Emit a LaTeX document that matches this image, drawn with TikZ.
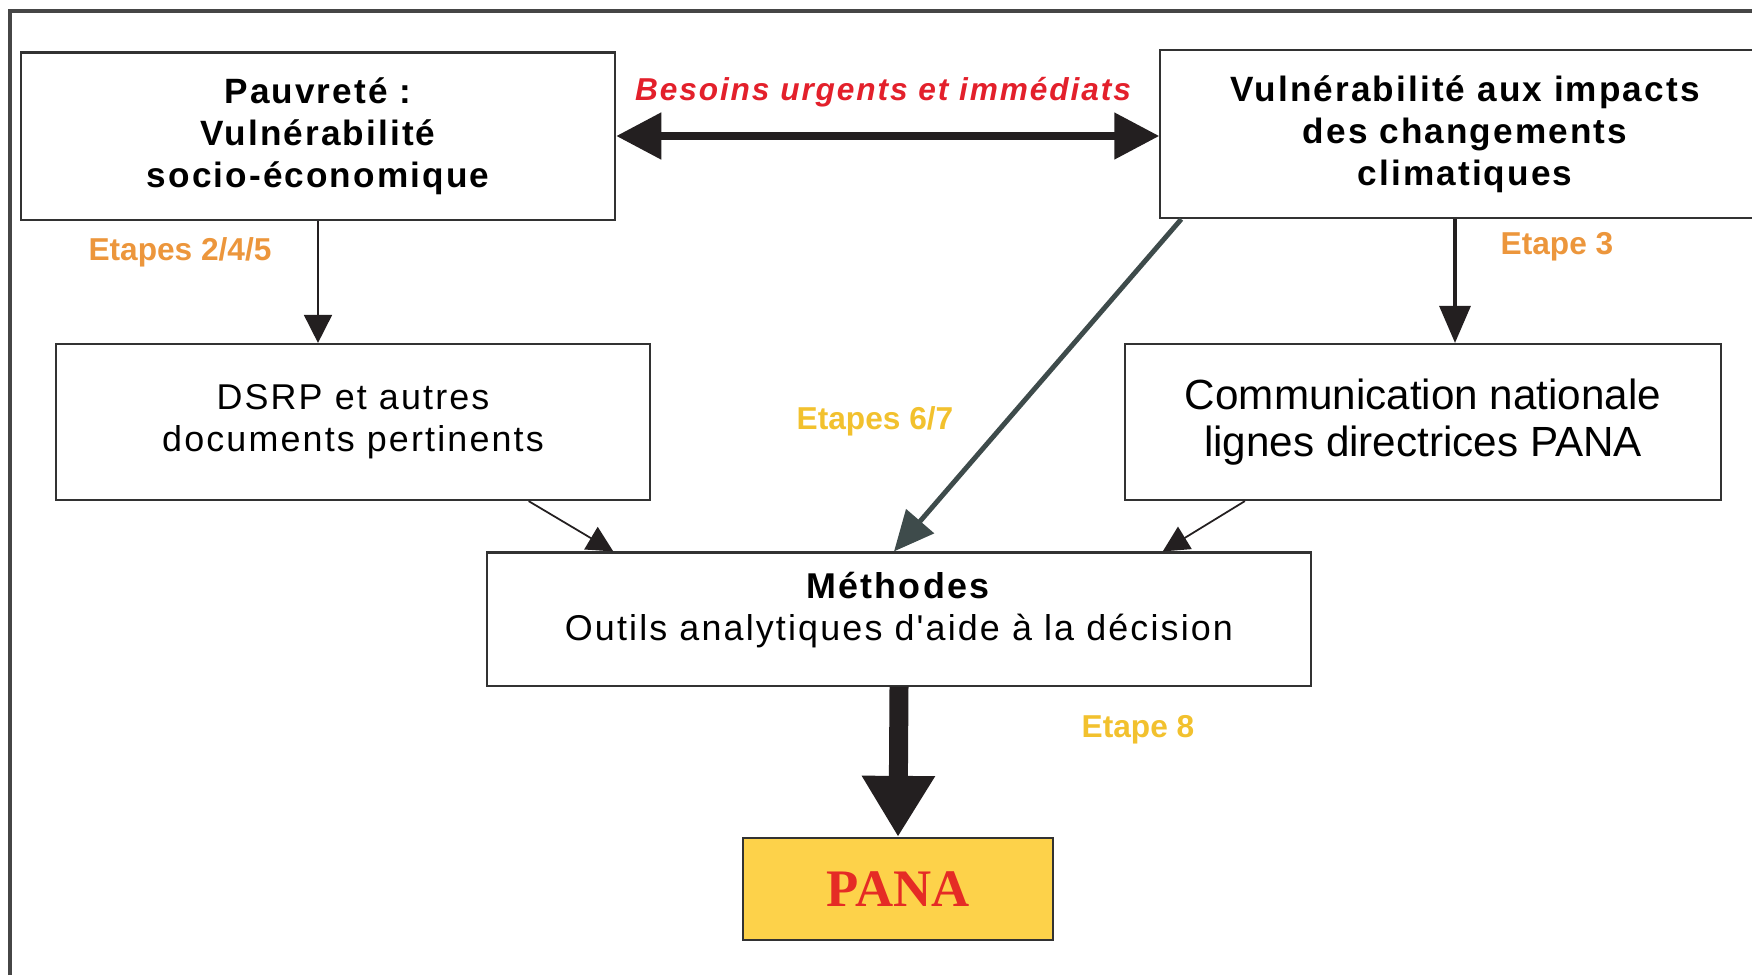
\documentclass[tikz,border=0pt]{standalone}
\usepackage{fontspec}
\setmainfont{Liberation Sans}
\newfontfamily\spacedfont[LetterSpace=6]{Liberation Sans}
\newfontfamily\panafont{Liberation Serif}
\usetikzlibrary{arrows.meta}
\definecolor{boxline}{RGB}{50,50,50}
\definecolor{framegray}{RGB}{70,70,70}
\definecolor{arrowblack}{RGB}{35,31,32}
\definecolor{diaggray}{RGB}{62,75,75}
\definecolor{labelred}{RGB}{227,32,43}
\definecolor{labelorange}{RGB}{236,150,60}
\definecolor{labelyellow}{RGB}{242,193,46}
\definecolor{panafill}{RGB}{253,210,74}
\definecolor{panared}{RGB}{229,43,37}

\begin{document}
\begin{tikzpicture}[x=0.01cm,y=-0.01cm]
    \tikzstyle{every node}=[font=\spacedfont\fontsize{10.2}{12}\selectfont]
    \tikzstyle{box}=[draw=boxline, line width=0.6pt, align=center, inner sep=0pt]
    \tikzstyle{boldbox}=[box, font=\spacedfont\bfseries\fontsize{10}{12}\selectfont]
    \tikzstyle{etape}=[font=\bfseries\fontsize{9}{10}\selectfont]

    \useasboundingbox (0,0) rectangle (1752,975);

    % Frame
    \draw[framegray, line width=1pt] (10,975) -- (10,11) -- (1752,11);

    % Boxes
    \node[boldbox, minimum width=5.94cm, minimum height=1.67cm] at (318,136) (pauv) {Pauvreté :\\Vulnérabilité\\socio-économique};
    \node[boldbox, minimum width=6.09cm, minimum height=1.68cm] at (1465,134) (vuln) {Vulnérabilité aux impacts\\des changements\\climatiques};
    \node[box, minimum width=5.93cm, minimum height=1.56cm] at (353,422) (dsrp) {DSRP et autres\\documents pertinents};
    \node[box, minimum width=5.96cm, minimum height=1.56cm, font=\fontsize{12}{13.5}\selectfont] at (1423,422) (comm) {Communication nationale\\lignes directrices PANA};
    \node[box, minimum width=8.23cm, minimum height=1.33cm] at (899,619) (meth) {\textbf{Méthodes}\\Outils analytiques d'aide à la décision\rule[-7pt]{0pt}{0pt}};
    \node[box, fill=panafill, minimum width=3.10cm, minimum height=1.02cm, font=\panafont\bfseries\fontsize{15}{15}\selectfont, text=panared] at (898,889) (pana) {PANA};

    % Arrows
    \draw[{Triangle[length=0.45cm,width=0.45cm]}-{Triangle[length=0.45cm,width=0.45cm]}, line width=2.3pt, arrowblack] (pauv.east) -- (pauv.east -| vuln.west);
    \draw[-{Triangle[length=0.28cm,width=0.28cm]}, line width=0.5pt, arrowblack] (pauv.south) -- (pauv.south |- dsrp.north);
    \draw[-{Triangle[length=0.37cm,width=0.31cm]}, line width=0.9pt, arrowblack] ([xshift=-0.1cm]vuln.south) -- ([xshift=-0.1cm]vuln.south |- comm.north);
    \draw[-{Triangle[length=0.40cm,width=0.36cm]}, line width=1.4pt, diaggray] ([xshift=0.22cm]vuln.south west) -- ([xshift=-0.05cm]meth.north);
    \draw[-{Triangle[length=0.26cm,width=0.26cm]}, line width=0.5pt, arrowblack] ([xshift=-1.22cm]dsrp.south east) -- ([xshift=1.27cm]meth.north west);
    \draw[-{Triangle[length=0.26cm,width=0.26cm]}, line width=0.5pt, arrowblack] ([xshift=1.21cm]comm.south west) -- ([xshift=-1.49cm]meth.north east);
    \draw[-{Triangle[length=0.61cm,width=0.69cm]}, line width=5.4pt, arrowblack] (meth.south) -- (pana.north);

    % Labels
    \node[font=\spacedfont\bfseries\itshape\fontsize{9}{11}\selectfont, text=labelred] at (883,92) (besoins) {Besoins urgents et immédiats};
    \node[etape, text=labelorange] at (180,252) (et245) {Etapes 2/4/5};
    \node[etape, text=labelorange] at (1557,247) (et3) {Etape 3};
    \node[etape, text=labelyellow] at (875,421) (et67) {Etapes 6/7};
    \node[etape, text=labelyellow] at (1138,730) (et8) {Etape 8};

\end{tikzpicture}
\end{document}
